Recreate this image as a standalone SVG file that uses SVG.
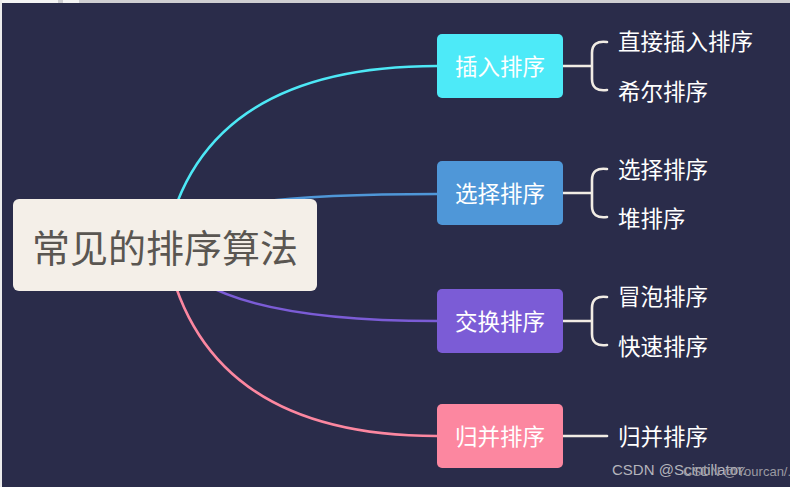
<svg xmlns="http://www.w3.org/2000/svg" width="790" height="487" viewBox="0 0 790 487">
<style>
.bg{fill:#2a2c4a}
.link{fill:none;stroke-width:2.6;stroke-linecap:round}
.brace{fill:none;stroke:#f1ece4;stroke-width:2.6;stroke-linecap:round;stroke-linejoin:round}
.ntext{font-family:"Noto Sans CJK SC","Noto Sans",sans-serif;font-size:22.5px;fill:#ffffff;text-anchor:middle;dominant-baseline:central}
.ctext{font-family:"Noto Sans CJK SC","Noto Sans",sans-serif;font-size:22.5px;fill:#ffffff;dominant-baseline:central}
.wm{font-family:"Liberation Sans",Arial,sans-serif}
</style>
<rect class="bg" x="0" y="0" width="790" height="487"/>
<rect x="0" y="0" width="790" height="3" fill="#cfcfd2"/>
<rect x="0" y="0" width="58" height="3" fill="#f4f4f4"/>
<rect x="63" y="0" width="16" height="3" fill="#f4f4f4"/>
<rect x="0" y="0" width="2" height="487" fill="#ececec"/>

<g id="connectors">
  <path class="link" stroke="#4de8f6" d="M165 245 Q200 66 437 66"/>
  <path class="link" stroke="#4f97d8" d="M165 245 Q150 194 437 194"/>
  <path class="link" stroke="#7b5cd6" d="M165 245 Q200 321 437 321"/>
  <path class="link" stroke="#fc87a0" d="M165 245 Q200 436 437 436"/>
  <path class="brace" d="M563 66 L592 66 M607 42 Q592 40 592 53 L592 79 Q592 92 607 90"/>
  <path class="brace" d="M563 193 L592 193 M607 169 Q592 167 592 180 L592 206 Q592 219 607 217"/>
  <path class="brace" d="M563 321 L592 321 M607 297 Q592 295 592 308 L592 334 Q592 347 607 345"/>
  <path class="brace" d="M563 436 L607 436"/>
</g>

<g id="root">
  <rect x="13" y="199" width="304" height="92" rx="6" fill="#f4efe8"/>
  <text x="165" y="245" text-anchor="middle" dominant-baseline="central" font-family="Noto Sans CJK SC, Noto Sans, sans-serif" font-size="38" fill="#5a5651">常见的排序算法</text>
</g>

<g id="n-insert">
  <rect x="437" y="34" width="126" height="64" rx="5" fill="#4deaf8"/>
  <text class="ntext" x="500" y="65">插入排序</text>
</g>
<g id="n-select">
  <rect x="437" y="161" width="126" height="64" rx="5" fill="#4f97d8"/>
  <text class="ntext" x="500" y="192">选择排序</text>
</g>
<g id="n-swap">
  <rect x="437" y="289" width="126" height="64" rx="5" fill="#7b5cd6"/>
  <text class="ntext" x="500" y="320">交换排序</text>
</g>
<g id="n-merge">
  <rect x="437" y="404" width="126" height="64" rx="5" fill="#fc87a0"/>
  <text class="ntext" x="500" y="435">归并排序</text>
</g>

<g id="c-direct"><text class="ctext" x="618" y="39.5">直接插入排序</text></g>
<g id="c-shell"><text class="ctext" x="618" y="89.5">希尔排序</text></g>
<g id="c-selection"><text class="ctext" x="618" y="167.5">选择排序</text></g>
<g id="c-heap"><text class="ctext" x="618" y="216.5">堆排序</text></g>
<g id="c-bubble"><text class="ctext" x="618" y="294.5">冒泡排序</text></g>
<g id="c-quick"><text class="ctext" x="618" y="344.5">快速排序</text></g>
<g id="c-merge"><text class="ctext" x="618" y="434.5">归并排序</text></g>

<text class="wm" x="612" y="475" font-size="15" fill="#b4b4bc">CSDN @Scintillator.</text>
<text class="wm" x="683" y="476" font-size="13" fill="#9a9aa2">CSDN @Yourcan/.</text>
</svg>
